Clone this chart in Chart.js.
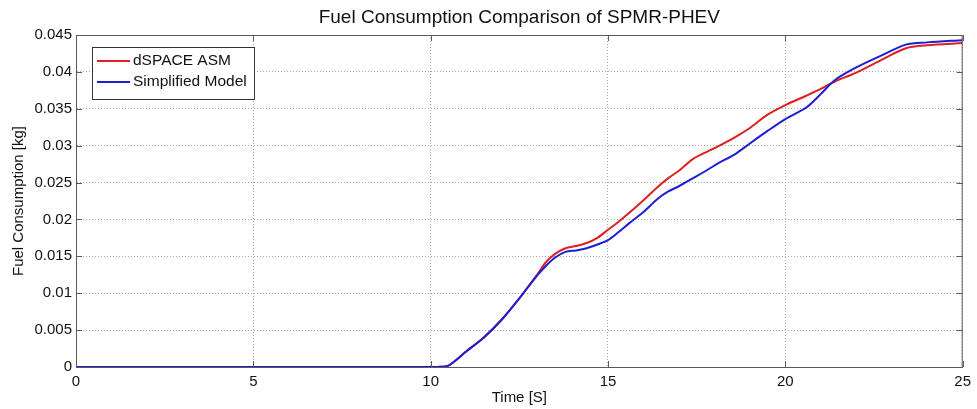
<!DOCTYPE html>
<html>
<head>
<meta charset="utf-8">
<title>Fuel Consumption Comparison of SPMR-PHEV</title>
<script src="https://cdn.jsdelivr.net/npm/chart.js@4.4.1/dist/chart.umd.min.js"></script>
<style>
    body { margin: 0; background: #fff; }
    #wrap { width: 977px; height: 409px; }
</style>
</head>
<body>
<div id="wrap"><canvas id="fuel-chart" width="977" height="409"></canvas></div>
<script>
// Datos (tiempo en s, consumo en kg)
const timeS = [0, 5, 10, 10.2, 10.5, 11, 11.5, 12, 12.5, 13, 13.25, 13.5, 13.8, 14.1, 14.4, 14.7, 15, 15.3, 15.6, 16, 16.4, 16.7, 17, 17.4, 17.8, 18.1, 18.6, 19, 19.5, 20, 20.6, 21, 21.4, 22, 22.7, 23.4, 24, 25];

const dspaceAsm = [0, 0, 0, 0, 0.0002, 0.0021, 0.0040, 0.0064, 0.0093, 0.0125, 0.0142, 0.0153, 0.0161, 0.0164, 0.0168, 0.0175, 0.0186, 0.0197, 0.0209, 0.0226, 0.0244, 0.0256, 0.0266, 0.0282, 0.0292, 0.0299, 0.0312, 0.0324, 0.0342, 0.0355, 0.0368, 0.0377, 0.0387, 0.0399, 0.0416, 0.0432, 0.0436, 0.0439];

const simplifiedModel = [0, 0, 0, 0, 0.0002, 0.0021, 0.0040, 0.0064, 0.0093, 0.0124, 0.0137, 0.0148, 0.0156, 0.0158, 0.0161, 0.0166, 0.0172, 0.0183, 0.0195, 0.0210, 0.0228, 0.0238, 0.0245, 0.0256, 0.0267, 0.0276, 0.0289, 0.0303, 0.0320, 0.0336, 0.0352, 0.0370, 0.0389, 0.0406, 0.0422, 0.0437, 0.0440, 0.0443];

const xTickLabels = ['0', '5', '10', '15', '20', '25'];
const yTickLabels = ['0', '0.005', '0.01', '0.015', '0.02', '0.025', '0.03', '0.035', '0.04', '0.045'];

const chartTitle = 'Fuel Consumption Comparison of SPMR-PHEV';

const FONT = '"Liberation Sans", Arial, sans-serif';
const AXIS_COLOR = '#5a5a5a';
const GRID_COLOR = '#a8a8a8';

function toPoints(values) {
    return timeS.map((t, i) => ({ x: t, y: values[i] }));
}

// Titulo centrado sobre el area de trazado
const plotTitlePlugin = {
    id: 'plotTitle',
    afterDraw(chart) {
        const { ctx, chartArea: a } = chart;
        ctx.save();
        ctx.font = '19px ' + FONT;
        ctx.fillStyle = '#111';
        ctx.textAlign = 'center';
        ctx.textBaseline = 'alphabetic';
        ctx.fillText(chartTitle, (a.left + a.right) / 2, 23);
        ctx.restore();
    }
};

// Marco y marcas hacia adentro, estilo MATLAB
const framePlugin = {
    id: 'frame',
    afterDraw(chart) {
        const { ctx, chartArea: a, scales: { x, y } } = chart;
        ctx.save();
        ctx.strokeStyle = AXIS_COLOR;
        ctx.lineWidth = 1;
        ctx.strokeRect(a.left + 0.5, a.top + 0.5, a.right - a.left - 1, a.bottom - a.top);
        ctx.beginPath();
        x.ticks.forEach(t => {
            const px = Math.round(x.getPixelForValue(t.value)) + 0.5;
            ctx.moveTo(px, a.bottom); ctx.lineTo(px, a.bottom - 6);
            ctx.moveTo(px, a.top); ctx.lineTo(px, a.top + 6);
        });
        y.ticks.forEach(t => {
            const py = Math.round(y.getPixelForValue(t.value)) + 0.5;
            ctx.moveTo(a.left, py); ctx.lineTo(a.left + 6, py);
            ctx.moveTo(a.right, py); ctx.lineTo(a.right - 6, py);
        });
        ctx.stroke();
        ctx.restore();
    }
};

// Leyenda con recuadro dentro del area del grafico
const boxLegendPlugin = {
    id: 'boxLegend',
    afterDraw(chart) {
        const { ctx } = chart;
        const left = 92, top = 47, w = 162, h = 52;
        ctx.save();
        ctx.fillStyle = '#fff';
        ctx.fillRect(left, top, w, h);
        ctx.strokeStyle = '#333';
        ctx.lineWidth = 1;
        ctx.strokeRect(left + 0.5, top + 0.5, w, h);
        ctx.font = '15.5px ' + FONT;
        ctx.textBaseline = 'middle';
        chart.data.datasets.forEach((ds, i) => {
            const yy = top + 14 + i * 21;
            ctx.strokeStyle = ds.borderColor;
            ctx.lineWidth = 2;
            ctx.beginPath();
            ctx.moveTo(left + 5, yy);
            ctx.lineTo(left + 38, yy);
            ctx.stroke();
            ctx.fillStyle = '#111';
            ctx.fillText(ds.label, left + 41, yy);
        });
        ctx.restore();
    }
};

const ctx = document.getElementById('fuel-chart').getContext('2d');
const fuelChart = new Chart(ctx, {
    type: 'line',
    data: {
        datasets: [
            {
                label: 'dSPACE ASM',
                data: toPoints(dspaceAsm),
                borderColor: 'rgb(222, 32, 32)',
                borderWidth: 2,
                pointRadius: 0,
                tension: 0.3,
                order: 1
            },
            {
                label: 'Simplified Model',
                data: toPoints(simplifiedModel),
                borderColor: 'rgb(30, 30, 215)',
                borderWidth: 2,
                pointRadius: 0,
                tension: 0.3,
                order: 0
            }
        ]
    },
    options: {
        responsive: false,
        animation: false,
        layout: { padding: { left: 0, right: 9, top: 35, bottom: 0 } },
        plugins: {
            legend: { display: false },
            tooltip: { enabled: false },
            title: { display: false }
        },
        scales: {
            x: {
                type: 'linear',
                min: 0,
                max: 25,
                afterFit: s => { s.height = 42; },
                border: { color: AXIS_COLOR, width: 1, dash: [1, 2] },
                grid: { color: GRID_COLOR, drawTicks: false },
                ticks: {
                    stepSize: 5,
                    padding: 6,
                    color: '#111',
                    font: { family: FONT, size: 15 },
                    callback: (v, i) => xTickLabels[i]
                },
                title: {
                    display: true,
                    text: 'Time [S]',
                    color: '#111',
                    font: { family: FONT, size: 15 },
                    padding: { top: 0, bottom: 2 }
                }
            },
            y: {
                min: 0,
                max: 0.045,
                afterFit: s => { s.width = 76; },
                border: { color: AXIS_COLOR, width: 1, dash: [1, 2] },
                grid: { color: GRID_COLOR, drawTicks: false },
                ticks: {
                    stepSize: 0.005,
                    padding: 4,
                    color: '#111',
                    font: { family: FONT, size: 15 },
                    callback: (v, i) => yTickLabels[i]
                },
                title: {
                    display: true,
                    text: 'Fuel Consumption [kg]',
                    color: '#111',
                    font: { family: FONT, size: 15 },
                    padding: { top: 10, bottom: 0 }
                }
            }
        }
    },
    plugins: [plotTitlePlugin, framePlugin, boxLegendPlugin]
});
</script>
</body>
